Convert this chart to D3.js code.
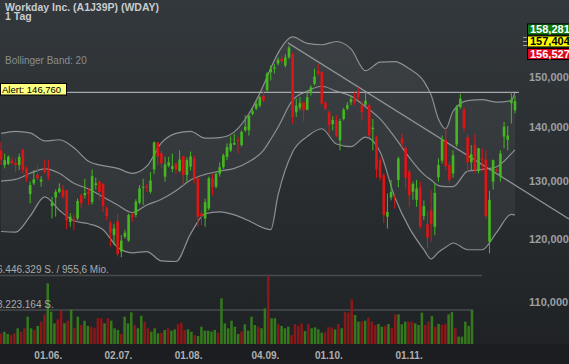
<!DOCTYPE html>
<html>
<head>
<meta charset="utf-8">
<script src="https://cdn.jsdelivr.net/npm/d3@7"></script>
<style>
  html, body { margin: 0; padding: 0; background: #1d2023; }
  svg { display: block; }
</style>
</head>
<body>
<svg id="chart" width="569" height="364"></svg>
<script>
// daily candles, prices in thousand
const open = [135.5,132.8,133.0,133.6,133.2,132.8,135.6,132.2,127.6,129.5,
  131.0,129.8,132.2,131.7,125.5,127.0,128.0,128.4,128.3,122.8,
  123.2,123.4,127.4,127.4,128.0,126.2,129.2,129.8,129.4,125.1,
  122.7,120.6,122.9,117.9,120.3,119.7,124.1,124.0,126.1,128.8,
  129.0,128.0,132.0,137.0,135.0,130.7,132.7,132.1,133.1,131.7,
  134.4,131.0,132.5,134.0,130.4,124.3,123.4,125.1,130.4,128.9,
  131.2,132.4,134.3,135.5,136.6,137.5,136.5,139.3,139.3,142.5,
  143.5,144.1,146.1,147.2,150.9,151.6,152.7,153.7,152.3,154.0,
  154.7,142.8,143.7,144.8,143.3,146.6,148.5,151.2,150.9,144.7,
  142.8,140.5,141.3,137.4,141.5,143.5,144.8,145.8,146.8,144.2,
  144.3,144.2,139.5,138.0,133.7,131.0,123.7,127.0,127.2,130.1,
  137.7,136.0,131.6,128.0,126.6,128.8,123.8,122.4,124.8,122.0,
  130.6,133.6,137.5,132.8,131.3,136.6,143.8,143.3,138.0,133.3,
  136.5,131.7,134.0,133.8,119.5,129.8,132.0,130.7,138.1,137.5,
  144.6,143.2];
const high = [137.1,134.9,134.6,134.2,134.0,134.9,135.8,132.5,129.8,131.9,
  132.8,130.8,133.8,133.7,127.1,128.4,129.5,129.2,128.3,124.3,
  124.0,126.8,127.7,130.3,128.6,132.0,130.5,130.0,129.6,125.5,
  123.0,122.5,124.2,120.6,121.5,124.2,124.4,126.7,129.2,130.3,
  129.4,131.5,137.2,137.1,135.5,134.3,134.3,134.9,133.1,135.5,
  134.4,134.2,135.3,134.6,130.7,124.8,126.8,130.7,131.2,131.5,
  133.3,134.9,136.8,138.1,138.6,138.1,139.3,142.2,142.2,143.5,
  145.1,146.1,147.2,150.9,152.3,152.6,154.0,154.4,154.7,156.5,
  155.0,145.5,145.8,144.8,147.2,148.2,151.6,152.6,151.2,144.9,
  143.2,142.0,142.2,141.5,143.7,144.8,146.1,146.8,147.8,145.1,
  146.8,144.5,141.5,138.3,134.3,131.3,127.7,130.1,127.4,134.3,
  138.7,136.3,131.9,129.8,130.1,129.8,126.5,124.6,128.3,129.5,
  134.0,138.3,139.9,133.4,135.5,144.2,146.5,143.8,138.7,136.5,
  138.5,136.0,135.9,135.5,128.2,133.8,132.2,135.5,140.9,140.1,
  146.8,146.1];
const low = [132.8,132.2,132.8,132.9,131.5,131.9,131.3,129.8,126.0,129.2,
  130.1,128.9,131.2,130.1,123.4,123.7,127.8,126.8,121.6,122.0,
  121.4,123.1,125.1,126.8,125.7,125.8,128.4,126.5,124.5,123.1,
  118.7,119.0,117.1,117.0,120.0,119.5,122.8,123.6,125.8,125.7,
  128.0,127.7,131.2,132.8,132.2,129.8,132.4,131.5,131.2,131.5,
  129.2,129.8,131.8,129.5,122.0,122.3,122.0,124.8,127.4,128.6,
  130.7,132.1,133.7,135.2,136.5,135.0,136.2,139.0,138.3,142.2,
  143.2,143.8,144.8,146.8,149.2,150.6,152.3,152.7,151.9,153.7,
  140.6,141.9,143.2,141.1,143.2,146.1,148.2,150.2,144.2,143.2,
  138.6,139.3,138.0,135.5,141.2,143.2,144.2,144.2,145.1,141.3,
  143.8,138.0,135.5,130.5,130.0,122.6,121.7,126.5,125.1,128.8,
  136.0,128.6,125.4,126.6,125.4,121.7,123.1,118.4,119.5,120.6,
  129.8,133.1,131.9,129.5,130.5,136.2,143.5,139.0,131.6,131.9,
  131.3,131.3,131.6,123.4,117.6,128.4,131.5,129.8,135.9,135.5,
  140.6,142.6];
const close = [133.8,133.7,134.3,133.2,132.8,134.3,131.9,130.4,129.2,130.2,
  130.4,130.2,131.5,130.7,126.1,128.0,128.6,127.1,123.1,123.7,
  123.0,126.4,126.0,127.8,127.6,130.8,129.5,128.0,125.5,123.8,
  121.0,121.7,117.5,119.7,121.0,124.0,123.6,126.3,128.6,128.9,
  128.8,130.0,137.0,134.4,133.1,132.9,133.3,132.6,132.0,133.8,
  131.0,133.7,134.4,130.4,123.7,123.8,126.2,130.4,128.9,131.2,
  132.4,134.6,136.1,136.8,136.9,137.3,139.0,140.0,142.2,143.0,
  144.5,145.8,145.1,150.6,151.6,151.9,153.5,153.2,154.0,156.1,
  141.9,144.1,144.6,143.2,145.8,147.8,150.0,150.6,144.5,143.5,
  140.3,141.3,138.3,141.1,143.3,144.2,145.4,144.8,145.8,142.8,
  145.1,138.3,139.8,132.0,130.5,124.0,124.5,128.0,126.9,134.0,
  136.8,130.5,127.4,129.4,128.6,122.0,125.5,120.2,122.4,127.8,
  132.8,137.5,132.6,130.1,134.6,143.8,145.5,139.7,133.3,134.8,
  131.9,135.9,133.7,123.8,126.6,133.7,131.7,134.9,140.0,138.3,
  145.3,145.0];
// volume in million shares
const volume = [1.00,1.17,0.95,0.85,1.01,1.49,1.17,1.49,2.59,1.49,
  1.33,1.71,2.12,2.81,5.75,3.06,1.96,2.34,3.16,1.96,
  2.21,3.28,1.49,2.59,1.80,2.21,1.71,1.64,1.49,2.44,
  2.44,1.96,2.44,2.21,1.49,1.33,0.95,2.59,1.96,3.00,
  1.80,1.49,2.68,2.12,1.49,1.17,1.49,1.01,1.07,1.33,
  1.49,1.26,1.39,1.90,2.02,1.33,1.39,1.17,0.85,0.76,
  1.64,1.26,1.26,1.17,1.33,1.07,4.33,1.96,1.49,2.21,
  1.64,0.95,1.17,1.87,1.26,2.59,1.80,1.64,1.49,3.38,
  6.446,2.44,2.44,1.87,1.71,1.49,1.64,0.85,1.90,1.71,
  1.96,1.23,1.90,1.49,1.58,1.39,1.07,1.11,1.58,1.58,
  1.39,1.90,1.49,3.03,2.97,4.23,2.75,2.12,2.12,2.21,
  2.50,2.12,1.80,1.90,1.64,1.71,1.90,1.49,2.81,2.81,
  1.87,2.12,2.12,2.12,1.96,1.80,2.97,1.80,2.12,2.65,
  1.64,1.90,1.80,1.90,2.81,3.03,1.49,0.70,0.70,2.12,
  1.71,3.22];

// Bollinger band (20), read at these sessions
const bandIdx = [0,4,8,12,16,20,24,28,32,36,40,44,48,52,56,60,64,68,72,74,
  76,80,84,88,92,96,100,104,108,112,116,118,120,122,124,128,132,136,140,141];
const bandUpper = [138.7,139.1,138.8,137.3,137.5,136.0,133.5,132.7,132.2,131.3,
  132.6,136.9,138.7,139.1,137.8,137.9,139.0,142.5,148.2,151.7,
  154.9,158.4,157.0,156.7,157.4,155.8,151.2,153.0,153.1,151.6,
  149.0,146.2,141.5,139.6,143.0,145.1,145.3,144.8,145.1,146.8];
const bandMiddle = [129.9,130.2,131.3,132.1,131.3,129.5,128.5,127.1,125.7,124.4,
  125.7,126.7,128.2,130.1,131.1,131.7,132.2,133.4,135.5,137.6,
  139.9,145.2,147.0,148.0,147.0,146.0,143.9,141.5,138.0,134.2,
  131.1,130.1,129.1,128.9,128.9,131.7,132.0,132.5,134.9,135.6];
const bandLower = [121.2,121.1,123.8,127.1,124.8,123.0,122.5,121.5,118.6,117.7,
  117.9,116.4,116.3,120.8,124.2,124.5,124.0,123.0,121.8,121.5,
  127.4,135.2,138.1,139.6,136.7,136.2,138.0,135.2,127.1,121.8,
  118.2,116.7,117.8,118.6,119.3,118.2,118.2,121.1,124.1,124.0];

// trend line anchors (session, price in thousand)
const trendIdx = [78.7, 155.8];
const trendVal = [157.1, 123.3];

const alertValue = 146760;
const quotes = [158281, 157404, 156527];
const priceTicks = [110000, 120000, 130000, 140000, 150000];
const dateTickIdx = [14, 35, 56, 79, 98, 122];
const dateTickLabels = ["01.06.", "02.07.", "01.08.", "04.09.", "01.10.", "01.11."];
const volMax = 6.446329;

const W = 569, H = 364;
const FONT = "'Liberation Sans', Arial, sans-serif";
const upCol = "#43b81f", downCol = "#dd1515";
const upVol = "#34791b", downVol = "#8a1818";

const n = open.length;
const rows = open.map((o, i) => ({
  i: i, o: o * 1000, h: high[i] * 1000, l: low[i] * 1000, c: close[i] * 1000, v: volume[i]
}));
const band = bandIdx.map((b, k) => ({
  i: b, u: bandUpper[k] * 1000, m: bandMiddle[k] * 1000, l: bandLower[k] * 1000
}));

const svg = d3.select("#chart");

var defs = svg.append("defs");
var grad = defs.append("linearGradient").attr("id", "bg")
  .attr("x1", 0).attr("y1", 0).attr("x2", 0).attr("y2", 1);
grad.append("stop").attr("offset", "0%").attr("stop-color", "#33383c");
grad.append("stop").attr("offset", "70%").attr("stop-color", "#25292c");
grad.append("stop").attr("offset", "100%").attr("stop-color", "#1e2023");

svg.append("rect").attr("width", W).attr("height", H).attr("fill", "url(#bg)");
svg.append("rect").attr("x", 0).attr("y", 344).attr("width", W).attr("height", 20).attr("fill", "#1b1d20");

// scales
const x = d3.scaleLinear().domain([0, n - 1]).range([1, 515]);
const xv = d3.scaleLinear().domain([0, n - 1]).range([1, 472]);
const y = d3.scaleLog().domain([110000, 150000]).range([302, 76.5]);
const yv = d3.scaleLinear().domain([0, volMax]).range([344, 276]);

// bollinger band
svg.append("path").datum(band)
  .attr("d", d3.area().x(d => x(d.i)).y0(d => y(d.l)).y1(d => y(d.u)).curve(d3.curveMonotoneX))
  .attr("fill", "rgba(255,255,255,0.05)");

["u", "m", "l"].forEach(k => {
  svg.append("path").datum(band)
    .attr("d", d3.line().x(d => x(d.i)).y(d => y(d[k])).curve(d3.curveMonotoneX))
    .attr("fill", "none").attr("stroke", "#8d9093").attr("stroke-width", 1.2);
});

// trend line
svg.append("path").datum(trendIdx.map((t, k) => ({ i: t, v: trendVal[k] * 1000 })))
  .attr("d", d3.line().x(d => x(d.i)).y(d => y(d.v)))
  .attr("stroke", "#8f9295").attr("stroke-width", 1.2).attr("fill", "none");

// alert line
svg.append("line").attr("x1", 0).attr("x2", 519)
  .attr("y1", y(alertValue)).attr("y2", y(alertValue))
  .attr("stroke", "#a6a8aa").attr("stroke-width", 1.3);

// candles
var candles = svg.append("g").selectAll("g").data(rows).enter().append("g");
candles.append("line")
  .attr("x1", d => x(d.i)).attr("x2", d => x(d.i))
  .attr("y1", d => y(d.h)).attr("y2", d => y(d.l))
  .attr("stroke", d => d.c >= d.o ? upCol : downCol).attr("stroke-width", 1);
candles.append("rect")
  .attr("x", d => x(d.i) - 1.3).attr("width", 2.6)
  .attr("y", d => y(Math.max(d.o, d.c)))
  .attr("height", d => Math.max(1, Math.abs(y(d.o) - y(d.c))))
  .attr("fill", d => d.c >= d.o ? upCol : downCol);

// volume panel
svg.append("line").attr("x1", 0).attr("x2", 482).attr("y1", 275.5).attr("y2", 275.5)
  .attr("stroke", "#474b4f").attr("stroke-width", 1.3);
svg.append("line").attr("x1", 0).attr("x2", 473).attr("y1", 310).attr("y2", 310)
  .attr("stroke", "#474b4f").attr("stroke-width", 1.3);

svg.append("g").selectAll("rect").data(rows).enter().append("rect")
  .attr("x", d => xv(d.i) - 1.25).attr("width", 2.5)
  .attr("y", d => yv(d.v)).attr("height", d => 344 - yv(d.v))
  .attr("fill", d => d.c >= d.o ? upVol : downVol);

svg.append("text").attr("x", -3).attr("y", 272.5)
  .attr("font-family", FONT).attr("font-size", 10).attr("fill", "#a9abad")
  .text("6.446.329 S. / 955,6 Mio.");
svg.append("text").attr("x", -3).attr("y", 307.5)
  .attr("font-family", FONT).attr("font-size", 10).attr("fill", "#a9abad")
  .text("3.223.164 S.");

// price axis
svg.append("g").attr("transform", "translate(529,0)")
  .call(d3.axisRight(y).tickValues(priceTicks).tickFormat(d3.format(",")).tickSize(0).tickPadding(0))
  .call(g => g.select(".domain").remove())
  .attr("font-family", FONT).attr("font-size", 11).attr("font-weight", "bold")
  .selectAll("text").attr("fill", "#9c9fa2");

// date axis
svg.append("g").attr("transform", "translate(0,344)")
  .call(d3.axisBottom(xv).tickValues(dateTickIdx).tickFormat((d, k) => dateTickLabels[k]).tickSize(0).tickPadding(7.4))
  .call(g => g.select(".domain").remove())
  .attr("font-family", FONT).attr("font-size", 10).attr("font-weight", "bold")
  .selectAll("text").attr("fill", "#aeb0b2");

// quote markers and tags
const qFmt = d3.format(",");
const tagFill = ["#0f7a12", "#ffff00", "#e0081c"];
const tagText = ["#ffffff", "#000000", "#ffffff"];
const tagOff = [-12, 0, 12.5];
quotes.forEach((q, k) => {
  svg.append("line").attr("x1", 523).attr("x2", 527.5)
    .attr("y1", y(q)).attr("y2", y(q)).attr("stroke", "#a0a3a6").attr("stroke-width", 1);
  var cy = y(quotes[1]) + tagOff[k];
  svg.append("rect").attr("x", 527.5).attr("y", cy - 5.5).attr("width", 42).attr("height", 11)
    .attr("fill", tagFill[k]).attr("stroke", "#000").attr("stroke-width", 1);
  svg.append("text").attr("x", 530).attr("y", cy + 4)
    .attr("font-family", FONT).attr("font-size", 11).attr("font-weight", "bold")
    .attr("fill", tagText[k]).text(qFmt(q));
});

// alert label
svg.append("rect").attr("x", 0.5).attr("y", 83.5).attr("width", 66).attr("height", 11.5)
  .attr("fill", "#ffff80").attr("stroke", "#000").attr("stroke-width", 1);
svg.append("text").attr("x", 2).attr("y", 93)
  .attr("font-family", FONT).attr("font-size", 9.5).attr("fill", "#000")
  .text("Alert: " + qFmt(alertValue));

// titles
svg.append("text").attr("x", 5).attr("y", 11)
  .attr("font-family", FONT).attr("font-size", 10.5).attr("font-weight", "bold").attr("fill", "#c9cbcd")
  .text("Workday Inc. (A1J39P) (WDAY)");
svg.append("text").attr("x", 5).attr("y", 20)
  .attr("font-family", FONT).attr("font-size", 10.5).attr("font-weight", "bold").attr("fill", "#c9cbcd")
  .text("1 Tag");
svg.append("text").attr("x", 5).attr("y", 64)
  .attr("font-family", FONT).attr("font-size", 10).attr("fill", "#8b8e91")
  .text("Bollinger Band: 20");
</script>
</body>
</html>
